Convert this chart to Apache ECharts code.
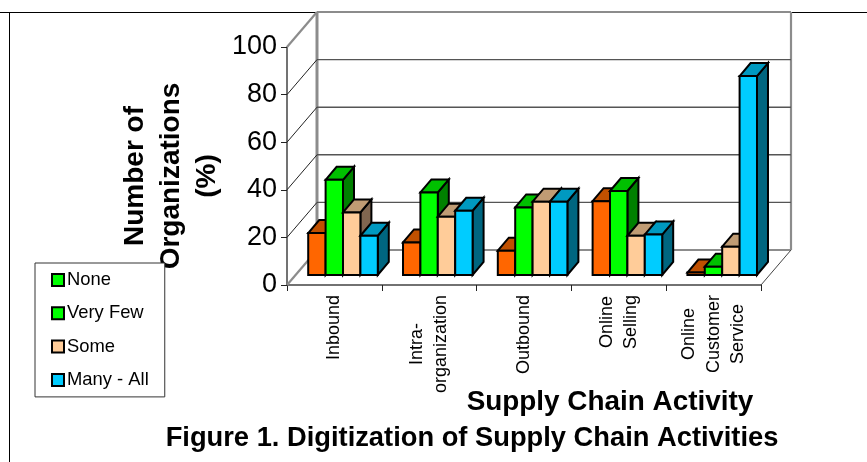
<!DOCTYPE html>
<html><head><meta charset="utf-8">
<style>html,body{margin:0;padding:0;background:#fff}#c{width:867px;height:462px}</style>
<script src="https://cdn.jsdelivr.net/npm/echarts@6/dist/echarts.min.js"></script>
</head><body><div id="c"></div>
<script>
const categories = ['Inbound', 'Intra-\norganization', 'Outbound', 'Online\nSelling', 'Online\nCustomer\nService'];
const seriesNames = ['None', 'Very Few', 'Some', 'Many - All'];
const none = [17.6, 13.7, 10.2, 31, 1];
const veryFew = [40, 34.7, 28.4, 35.3, 3.5];
const some = [26.3, 24.5, 30.8, 16.5, 11.9];
const manyAll = [16.5, 27, 30.8, 17, 83.6];
const yTicks = [0, 20, 40, 60, 80, 100];
const seriesValues = [none, veryFew, some, manyAll];
const faces = [
  {front:'#ff6600', top:'#c05000', side:'#803300'},
  {front:'#00ff00', top:'#00c000', side:'#008000'},
  {front:'#ffcc99', top:'#c09c74', side:'#806650'},
  {front:'#00ccff', top:'#0099c0', side:'#006680'}
];
const legendSwatch = ['#00ff00', '#00ff00', '#ffcc99', '#00ccff'];
const FONT = '"Liberation Sans", Arial, sans-serif';
const WALL = {x: 30, y: -35};      // depth of the 3-D box
const SHIFT = {x: 8.6, y: -10};    // where bar fronts sit within the depth
const BAR = {x: 11, y: -13, ratio: 0.1835};

function barRender(k, face) {
  return function (params, api) {
    const i = api.value(0), v = api.value(1);
    const top = api.coord([i, v]), base = api.coord([i, 0]);
    const w = api.size([1, 0])[0] * BAR.ratio;
    const x0 = top[0] + SHIFT.x - 2 * w + k * w, x1 = x0 + w;
    const yT = top[1] + SHIFT.y, yB = base[1] + SHIFT.y;
    const st = {stroke: '#000', lineWidth: 2, lineJoin: 'miter'};
    const poly = (pts, fill) => ({type: 'polygon', shape: {points: pts}, style: Object.assign({fill}, st)});
    return {type: 'group', children: [
      poly([[x1, yT], [x1 + BAR.x, yT + BAR.y], [x1 + BAR.x, yB + BAR.y], [x1, yB]], face.side),
      poly([[x0, yT], [x0 + BAR.x, yT + BAR.y], [x1 + BAR.x, yT + BAR.y], [x1, yT]], face.top),
      poly([[x0, yT], [x1, yT], [x1, yB], [x0, yB]], face.front)
    ]};
  };
}

function wallRender(params, api) {
  const v = api.value(0), cs = params.coordSys;
  const y = api.coord([0, v])[1];
  const L = cs.x, R = cs.x + cs.width, dx = WALL.x, dy = WALL.y;
  const seg = (x1, y1, x2, y2, stroke, lineWidth) => ({type: 'line', shape: {x1, y1, x2, y2}, style: {stroke, lineWidth}});
  const edge = v === yTicks[0] || v === yTicks[yTicks.length - 1];
  const grey = '#8c8c8c';
  const kids = [
    seg(L + dx, y + dy, R + dx, y + dy, edge ? grey : '#555', edge ? 2.2 : 1.4),
    seg(L, y, L + dx, y + dy, edge ? grey : '#222', edge ? 2.2 : 1)
  ];
  if (v === yTicks[0]) {
    const topY = api.coord([0, yTicks[yTicks.length - 1]])[1];
    kids.push(seg(L + dx, y + dy, L + dx, topY + dy, grey, 3));
    kids.push(seg(R + dx, y + dy, R + dx, topY + dy, grey, 2.2));
    kids.push(seg(R, y, R + dx, y + dy, '#444', 1));
  }
  return {type: 'group', children: kids};
}

const chart = echarts.init(document.getElementById('c'), null, {renderer: 'canvas'});
chart.setOption({
  backgroundColor: '#fff',
  animation: false,
  textStyle: {fontFamily: FONT},
  grid: {left: 287, right: 106, top: 47, bottom: 177},
  title: {
    text: 'Figure 1. Digitization of Supply Chain Activities',
    left: 467, top: 420, textAlign: 'center',
    textStyle: {fontFamily: FONT, fontSize: 27.3, fontWeight: 'bold', color: '#000'}
  },
  legend: {
    orient: 'vertical', left: 35, top: 263,
    padding: [8, 16, 8, 16], itemGap: 15.3, itemWidth: 12, itemHeight: 12,
    icon: 'rect', backgroundColor: '#fff', borderColor: '#333', borderWidth: 1,
    itemStyle: {borderColor: '#000', borderWidth: 2},
    textStyle: {fontFamily: FONT, fontSize: 18.4, color: '#000', padding: [0, 0, 0, -2]},
    data: seriesNames.map((n, i) => ({name: n, itemStyle: {color: legendSwatch[i]}}))
  },
  graphic: [
    {type: 'line', silent: true, z: -1, shape: {x1: 0, y1: 12.5, x2: 867, y2: 12.5}, style: {stroke: '#000', lineWidth: 1}},
    {type: 'line', silent: true, z: -1, shape: {x1: 9.5, y1: 12.5, x2: 9.5, y2: 462}, style: {stroke: '#000', lineWidth: 1}}
  ],
  xAxis: {
    type: 'category', data: categories,
    name: 'Supply Chain Activity', nameLocation: 'middle', nameGap: 103, nameMoveOverlap: false,
    nameTextStyle: {fontFamily: FONT, fontSize: 27.9, fontWeight: 'bold', color: '#000', padding: [0, 0, 0, 172]},
    axisLine: {show: true, lineStyle: {color: '#444', width: 1.5}},
    axisTick: {show: true, length: 6, lineStyle: {color: '#222', width: 1}},
    axisLabel: {
      interval: 0, rotate: 90, margin: 10, align: 'right', verticalAlign: 'middle',
      fontFamily: FONT, fontSize: 18, color: '#000',
      formatter: s => s.split('\n').map(t => '{c|' + t + '}').join('\n'),
      rich: {c: {align: 'center', lineHeight: 24.5, fontFamily: FONT, fontSize: 18, color: '#000'}}
    }
  },
  yAxis: {
    type: 'value', min: 0, max: 100, interval: 20,
    name: 'Number of\nOrganizations\n(%)', nameLocation: 'middle', nameRotate: 90, nameGap: 62, nameMoveOverlap: false,
    nameTextStyle: {fontFamily: FONT, fontSize: 28, fontWeight: 'bold', color: '#000', lineHeight: 36, padding: [0, 20, 0, 0]},
    axisLine: {show: true, lineStyle: {color: '#444', width: 1.5}},
    axisTick: {show: true, length: 6, lineStyle: {color: '#222', width: 1}},
    axisLabel: {margin: 10, fontFamily: FONT, fontSize: 27, color: '#000'},
    splitLine: {show: false}
  },
  series: [
    {type: 'custom', name: 'walls', silent: true, z: 1, data: yTicks.map(v => [v]), encode: {y: 0}, renderItem: wallRender},
    ...seriesNames.map((n, k) => ({
      type: 'custom', name: n, z: 2, clip: false,
      itemStyle: {color: faces[k].front},
      data: seriesValues[k].map((v, i) => [i, v]),
      encode: {x: 0, y: 1},
      renderItem: barRender(k, faces[k])
    }))
  ]
});
</script></body></html>
